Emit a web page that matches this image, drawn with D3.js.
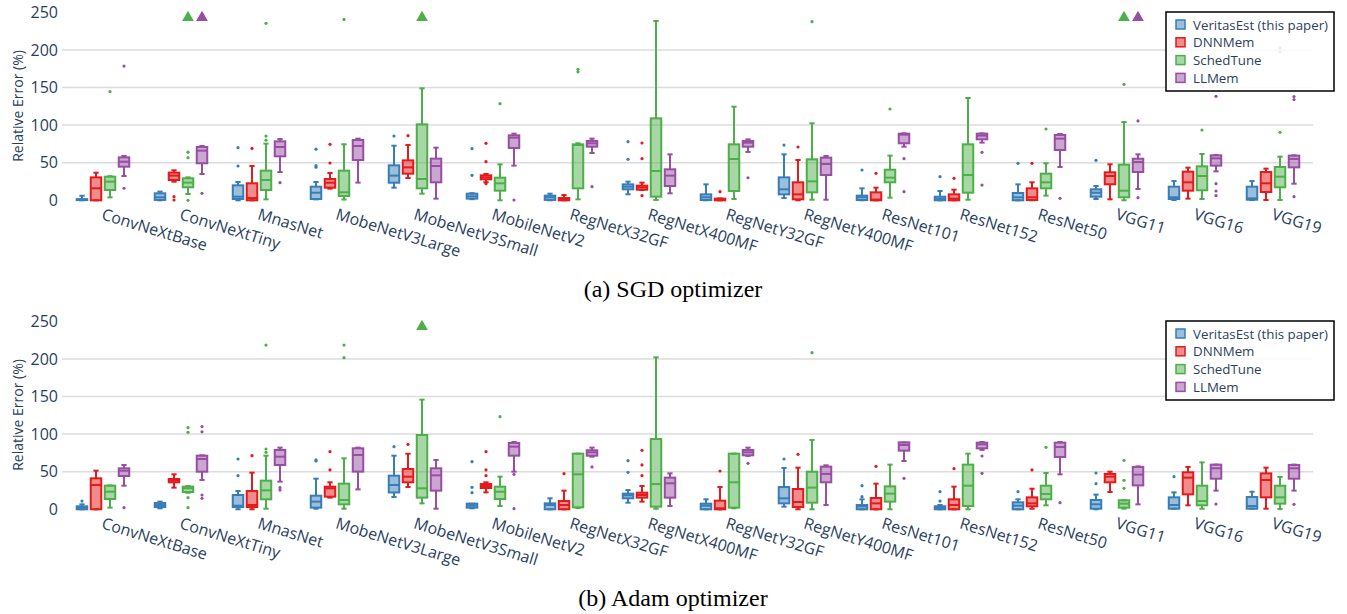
<!DOCTYPE html>
<html>
<head>
<meta charset="utf-8">
<script src="https://cdn.jsdelivr.net/npm/d3@7"></script>
<style>
  body { margin: 0; background: #fff; }
  text { font-family: "Open Sans", sans-serif; }
</style>
</head>
<body>
<div class="chart"></div>
<script>
// categories and series
const models = ['ConvNeXtBase', 'ConvNeXtTiny', 'MnasNet', 'MobeNetV3Large', 'MobeNetV3Small',
  'MobileNetV2', 'RegNetX32GF', 'RegNetX400MF', 'RegNetY32GF', 'RegNetY400MF',
  'ResNet101', 'ResNet152', 'ResNet50', 'VGG11', 'VGG16', 'VGG19'];
const methods = ['VeritasEst (this paper)', 'DNNMem', 'SchedTune', 'LLMem'];
const colors = ['#377eb8', '#e41a1c', '#4daf4a', '#984ea3'];
const yTicks = [0, 50, 100, 150, 200, 250];
const captions = ['(a) SGD optimizer', '(b) Adam optimizer'];

// box stats per model: [low whisker, q1, median, q3, high whisker, outliers]
const sgdVeritas = [
  [0, 0.3, 0.8, 1.5, 6, []], [0, 0.5, 4, 9.3, 11.5, []], [0, 1.7, 4.8, 19.9, 24.3, [45.6, 70]],
  [1.3, 1.7, 10.1, 18.1, 24.3, [44, 46, 68]], [16.8, 23.4, 32.8, 46.5, 72.6, [85.5]],
  [1.5, 2.2, 5.3, 8.8, 9.5, [33.2, 68.7]], [0, 0.5, 4, 6.2, 8.8, []], [8, 14.6, 18.1, 21.2, 24.8, [54.5, 78]],
  [0, 0.4, 4, 7.9, 21.2, []], [3, 7.9, 14.6, 30.5, 61.1, [73.5]], [0, 0.4, 4, 6.2, 15.9, [40.3]],
  [0, 0, 2.2, 4.8, 12.4, [31.4]], [0, 0, 4, 9.7, 21.2, [49.2]], [1.7, 4.8, 10.1, 14.6, 19, [53.2]],
  [0.4, 1.7, 4, 18.1, 25.6, []], [0.4, 0.8, 2.6, 18.1, 25.6, []]
];
const sgdDnnmem = [
  [0, 0, 15.9, 30.5, 36.7, []], [24.8, 27, 32.8, 36.8, 39.9, [0.4, 4.8]], [0, 0, 3, 22.6, 45.6, [69]],
  [15.5, 16.8, 23.4, 28.3, 36.3, [49.6, 74.5]], [29.6, 35.4, 43.8, 53.1, 73.5, [86]],
  [24, 27.9, 30.5, 33.2, 35, [22, 51.4, 75.8]], [0, 0, 1.3, 3, 7, []],
  [13.7, 14.1, 17.2, 19.5, 23.5, [6.2, 55.4, 76.2]], [0, 0, 0.5, 2.2, 2.5, [11.5]],
  [0, 1.3, 7.9, 23.9, 53.6, [70.9]], [0, 0, 1, 10.6, 16.8, [35.9]], [0, 0, 2.2, 7.9, 14.1, [29.2]],
  [0, 0.4, 4, 15.9, 23.9, [49.2]], [1.3, 21.3, 32.3, 37.2, 47.9, []], [2.2, 12.8, 23.9, 38.1, 43.4, []],
  [0.4, 11, 22.6, 37.6, 42.1, []]
];
const sgdSchedtune = [
  [3.9, 13.7, 24.8, 31.4, 32, [144.5]], [8.4, 17.3, 23.5, 29.3, 30.5, [0, 56.7, 64]],
  [1.3, 13.7, 27, 39.4, 75.3, [80, 85.5, 235.3]], [1, 5.7, 10.6, 39.4, 74.5, [240.5]],
  [8.8, 15.9, 28.3, 101, 148.9, []], [0, 12.8, 22.6, 30.1, 47.8, [128.5]],
  [1.3, 15.9, 73.5, 74.4, 75.8, [170.8, 174.3]], [0.4, 4.8, 39, 109, 238.4, []],
  [1.7, 12.4, 54.9, 74.4, 124.5, []], [0.8, 10.6, 25.2, 54.5, 102.4, [237.5]],
  [3.5, 23.9, 30.1, 40.7, 59.4, [121.4]], [0.8, 10.1, 33.6, 74.4, 136, []],
  [6.2, 15.9, 23.9, 35.4, 49.2, [94.8]], [0, 4, 12.8, 47.4, 104.1, [154.2]],
  [1.7, 13.3, 32.3, 45.2, 61.6, [93.5]], [0.4, 17.3, 31.4, 44.3, 58, [90.4, 197.3, 202.6]]
];
const sgdLlmem = [
  [32.3, 44.7, 51.4, 57.1, 59, [16, 178.5]], [35, 49.2, 66, 70.9, 72.2, [9.3]],
  [37.6, 58.5, 70.9, 78.4, 81.5, [23.5]], [23.5, 53.6, 72.2, 80.2, 82, []],
  [2.2, 23.9, 45.6, 55.4, 70, []], [46.1, 69.6, 83.3, 86.4, 88.6, [0.4]],
  [62.9, 71.3, 75.8, 78.9, 82, [18.1]], [9.3, 19, 32.8, 41.2, 61.1, []],
  [64.3, 71.3, 76.6, 78.9, 81, [30]], [0.8, 33.6, 48.3, 56.7, 58.9, []],
  [71.3, 75.8, 87.3, 88.6, 89, [11.5, 55.4]], [76.7, 81.1, 86, 88.6, 89, [20.3, 63.8]],
  [44.3, 66.9, 82, 86.9, 88.2, [2.6]], [15, 37.6, 50.9, 55.3, 61.1, [3.5, 105.5]],
  [38.5, 46.1, 55.8, 59.8, 60.3, [6.2, 12.4, 22.1, 138.2]], [22.1, 43.8, 55, 59.4, 59.8, [4.8, 134, 138]]
];
// values above the axis range: [model, method index]
const sgdOverflow = [['ConvNeXtTiny', 2], ['ConvNeXtTiny', 3], ['MobeNetV3Small', 2], ['VGG11', 2], ['VGG11', 3]];

const adamVeritas = [
  [0, 0, 2.2, 4, 6.6, [11]], [1.3, 3, 5.7, 8.4, 10.2, []], [0, 3, 4.8, 19, 24.3, [44.7, 66.9]],
  [0.8, 2.2, 10.2, 18.1, 40.7, [64.2, 65.6]], [16.4, 22.4, 32.3, 44.7, 71.3, [83.3]],
  [1.3, 2.2, 4.8, 7.5, 7.5, [22.1, 29.2, 63.3]], [0, 0, 5.7, 7.9, 14.6, []],
  [8.8, 14.6, 18.6, 20.8, 25.6, [49.2, 64.7]], [0, 0, 4.8, 7.5, 13.3, []],
  [3.5, 7.9, 14.6, 29.6, 54.9, [66.9]], [0, 0, 3.9, 5.7, 13.3, [16.8, 31.4]],
  [0, 0, 2.2, 4, 5.7, [11, 23.4]], [0, 0, 4.8, 9.3, 13.3, [23.4]], [0, 0.8, 6.6, 12.4, 19.5, [34.1, 48.3]],
  [0.8, 0.8, 5.7, 15.9, 22.5, [43.4]], [0.8, 0.8, 4.4, 16.4, 23.4, []]
];
const adamDnnmem = [
  [0, 0, 32.3, 41.2, 51.4, []], [28.8, 35.9, 38.1, 40.3, 46.5, []], [0, 3, 5.7, 24.3, 48.7, [71.3]],
  [15.5, 16.8, 27.9, 30.1, 35.9, [52.3, 76.6]], [29.6, 35.9, 43.4, 53.6, 73.9, [86.4]],
  [22.5, 28.3, 31, 33.6, 35.9, [44.7, 52.3, 76.6]], [0, 0, 5.7, 11, 24.8, [47.4]],
  [10.2, 15.5, 19, 22.1, 31, [44.7, 59, 78.4]], [0, 0, 1.3, 11.5, 29.6, [50.9]],
  [0, 3, 9.7, 27, 55.4, [73.1]], [0, 0, 7.9, 15, 34.1, [57.1]], [0, 0, 5.7, 13.3, 30.1, [54]],
  [0.8, 4, 7.9, 15.9, 27.4, [52.3]], [23, 35.9, 43.4, 47, 50, []], [5.3, 19.9, 42.1, 49.2, 56.3, []],
  [0.8, 15.9, 39, 47.8, 55.4, []]
];
const adamSchedtune = [
  [2.2, 13.7, 23.4, 31.4, 31.8, []], [22, 23, 27.9, 30.1, 31, [2.2, 15.5, 102.3, 108.5]],
  [0.8, 13.3, 25.2, 38.1, 71.3, [75.8, 80.2, 218.4]], [0.8, 6.6, 12.4, 34.1, 67.8, [201.6, 218.4]],
  [7.9, 15.5, 27.9, 98.8, 145.8, []], [4.4, 13.7, 23.4, 30.1, 43.4, [123.2]],
  [1.7, 2.6, 46.5, 74, 74, []], [0.8, 3.5, 33.6, 93.5, 202, []], [1.3, 2.2, 35.9, 74, 74, []],
  [0, 8.8, 28.8, 50, 92.2, [208.3]], [0, 10.2, 20.8, 30.5, 59.4, []], [0, 4.4, 31.4, 59.4, 74, []],
  [5.3, 13.3, 20.4, 31.4, 48.3, [82.4]], [0.8, 2.2, 7.5, 12, 12, [27.9, 38.5, 65.1]],
  [0.8, 5.3, 11, 31.4, 62.4, []], [0.4, 7.5, 15.9, 31.4, 43, []]
];
const adamLlmem = [
  [31.4, 44.3, 51.4, 54.5, 58.9, [2.2]], [39, 50, 66.9, 71.3, 71.8, [14.6, 19, 103, 110]],
  [36.8, 58.9, 70, 78.9, 82, [25.6, 28.8]], [26.5, 50.1, 72.2, 81.1, 82, []],
  [0.8, 24.8, 45.2, 54.5, 65.6, []], [50.1, 71.3, 83.3, 88.2, 89.5, [0.8, 46.5]],
  [70, 71.3, 75.8, 78.5, 82, [56.3]], [4.4, 15.5, 34.6, 42.1, 47.8, []],
  [71, 71.8, 75.8, 78.9, 82, [61.1]], [5.7, 35.9, 47, 56.7, 58.5, []],
  [64.2, 78, 85.5, 89, 89, [41.2]], [79, 81.1, 86.4, 88.6, 89.5, [47.8, 70.9]],
  [46.5, 69.6, 82.9, 88.6, 89.5, [8.8]], [6.6, 31.8, 46.1, 56.3, 57.1, []],
  [24.8, 40.7, 54.5, 59.4, 59.4, [7]], [24.8, 40.7, 54.5, 59, 59.4, [6.6]]
];
const adamOverflow = [['MobeNetV3Small', 2]];

// layout
const width = 1347, height = 614;
const plotLeft = 64, plotRight = 1312;
const panelShift = 309;
const textColor = '#2a3f5f';

const svg = d3.select('.chart')
  .append('svg')
  .attr('width', width)
  .attr('height', height);

svg.append('rect').attr('width', width).attr('height', height).attr('fill', '#fff');

const x = d3.scaleBand().domain(models).range([plotLeft, plotRight]);
const inner = d3.scaleBand().domain(d3.range(methods.length)).range([-28, 28]);
const boxW = 10.5;

const panels = [
  { series: [sgdVeritas, sgdDnnmem, sgdSchedtune, sgdLlmem], overflow: sgdOverflow, caption: captions[0] },
  { series: [adamVeritas, adamDnnmem, adamSchedtune, adamLlmem], overflow: adamOverflow, caption: captions[1] }
];

panels.forEach((panel, p) => {
  const top = p * panelShift;
  const y = d3.scaleLinear().domain([0, 250]).range([200.3 + top, 12.3 + top]);
  const g = svg.append('g');

  // gridlines
  g.append('g')
    .selectAll('line')
    .data(yTicks.filter(t => t > 0 && t < 250))
    .join('line')
    .attr('x1', plotLeft - 2).attr('x2', plotRight + 1)
    .attr('y1', d => y(d)).attr('y2', d => y(d))
    .attr('stroke', '#dcdcdc')
    .attr('stroke-width', 1.5);

  // y axis
  const yAxisGroup = g.append('g')
    .attr('transform', `translate(${plotLeft}, 0)`)
    .call(d3.axisLeft(y).tickValues(yTicks).tickSize(0).tickPadding(6));
  yAxisGroup.select('.domain').remove();
  yAxisGroup.selectAll('text')
    .attr('font-family', '"Open Sans", sans-serif')
    .attr('font-size', 16)
    .attr('fill', textColor);

  g.append('text')
    .attr('transform', `translate(17, ${106 + top}) rotate(-90)`)
    .attr('text-anchor', 'middle')
    .attr('dominant-baseline', 'central')
    .attr('font-size', 14)
    .attr('fill', textColor)
    .text('Relative Error (%)');

  // x axis labels
  const xAxisGroup = g.append('g')
    .attr('transform', `translate(0, ${208 + top})`)
    .call(d3.axisBottom(x).tickSize(0));
  xAxisGroup.select('.domain').remove();
  xAxisGroup.selectAll('text')
    .attr('font-family', '"Open Sans", sans-serif')
    .attr('font-size', 16)
    .attr('fill', textColor)
    .attr('text-anchor', 'start')
    .attr('x', 0).attr('y', 0)
    .attr('dy', '0.72em')
    .attr('transform', 'translate(1, 0) rotate(17)');

  // boxes
  panel.series.forEach((series, m) => {
    const color = colors[m];
    const boxes = g.append('g')
      .selectAll('g')
      .data(series.map((s, i) => ({ model: models[i], s })))
      .join('g')
      .attr('transform', d => `translate(${x(d.model) + x.bandwidth() / 2 + inner(m) + inner.bandwidth() / 2}, 0)`);

    // whiskers
    boxes.append('line')
      .attr('y1', d => y(d.s[0])).attr('y2', d => y(d.s[1]))
      .attr('stroke', color).attr('stroke-width', 2);
    boxes.append('line')
      .attr('y1', d => y(d.s[3])).attr('y2', d => y(d.s[4]))
      .attr('stroke', color).attr('stroke-width', 2);
    boxes.append('line')
      .attr('x1', -boxW / 4).attr('x2', boxW / 4)
      .attr('y1', d => y(d.s[0])).attr('y2', d => y(d.s[0]))
      .attr('stroke', color).attr('stroke-width', 2);
    boxes.append('line')
      .attr('x1', -boxW / 4).attr('x2', boxW / 4)
      .attr('y1', d => y(d.s[4])).attr('y2', d => y(d.s[4]))
      .attr('stroke', color).attr('stroke-width', 2);

    // box
    boxes.append('rect')
      .attr('x', -boxW / 2)
      .attr('width', boxW)
      .attr('y', d => y(d.s[3]))
      .attr('height', d => Math.max(0.5, y(d.s[1]) - y(d.s[3])))
      .attr('fill', color)
      .attr('fill-opacity', 0.5)
      .attr('stroke', color)
      .attr('stroke-width', 2);

    // median
    boxes.append('line')
      .attr('x1', -boxW / 2).attr('x2', boxW / 2)
      .attr('y1', d => y(d.s[2])).attr('y2', d => y(d.s[2]))
      .attr('stroke', color).attr('stroke-width', 2);

    // outliers
    boxes.selectAll('circle')
      .data(d => d.s[5])
      .join('circle')
      .attr('r', 1.6)
      .attr('cy', d => y(d))
      .attr('fill', color);
  });

  // markers for values past the top of the axis
  g.append('g')
    .selectAll('path')
    .data(panel.overflow)
    .join('path')
    .attr('d', d3.symbol(d3.symbolTriangle, 60))
    .attr('transform', d => `translate(${x(d[0]) + x.bandwidth() / 2 + inner(d[1]) + inner.bandwidth() / 2}, ${y(243)})`)
    .attr('fill', d => colors[d[1]]);

  // legend
  const legend = g.append('g')
    .attr('transform', `translate(1166, ${12 + top})`);
  legend.append('rect')
    .attr('width', 168).attr('height', 79)
    .attr('fill', '#fff').attr('fill-opacity', 0.85)
    .attr('stroke', '#000').attr('stroke-width', 1.5);
  const items = legend.selectAll('g.item')
    .data(methods)
    .join('g')
    .attr('class', 'item')
    .attr('transform', (d, i) => `translate(0, ${12.5 + i * 17.8})`);
  items.append('rect')
    .attr('x', 10).attr('y', -4.5)
    .attr('width', 9).attr('height', 9)
    .attr('fill', (d, i) => colors[i]).attr('fill-opacity', 0.5)
    .attr('stroke', (d, i) => colors[i]).attr('stroke-width', 1.5);
  items.append('text')
    .attr('x', 27)
    .attr('dominant-baseline', 'central')
    .attr('font-size', 13.3)
    .attr('fill', textColor)
    .text(d => d);

  // caption
  svg.append('text')
    .attr('x', 673)
    .attr('y', 297 + top)
    .attr('text-anchor', 'middle')
    .style('font-family', '"Liberation Serif", "Times New Roman", serif')
    .attr('font-size', 24)
    .attr('fill', '#000')
    .text(panel.caption);
});
</script>
</body>
</html>
